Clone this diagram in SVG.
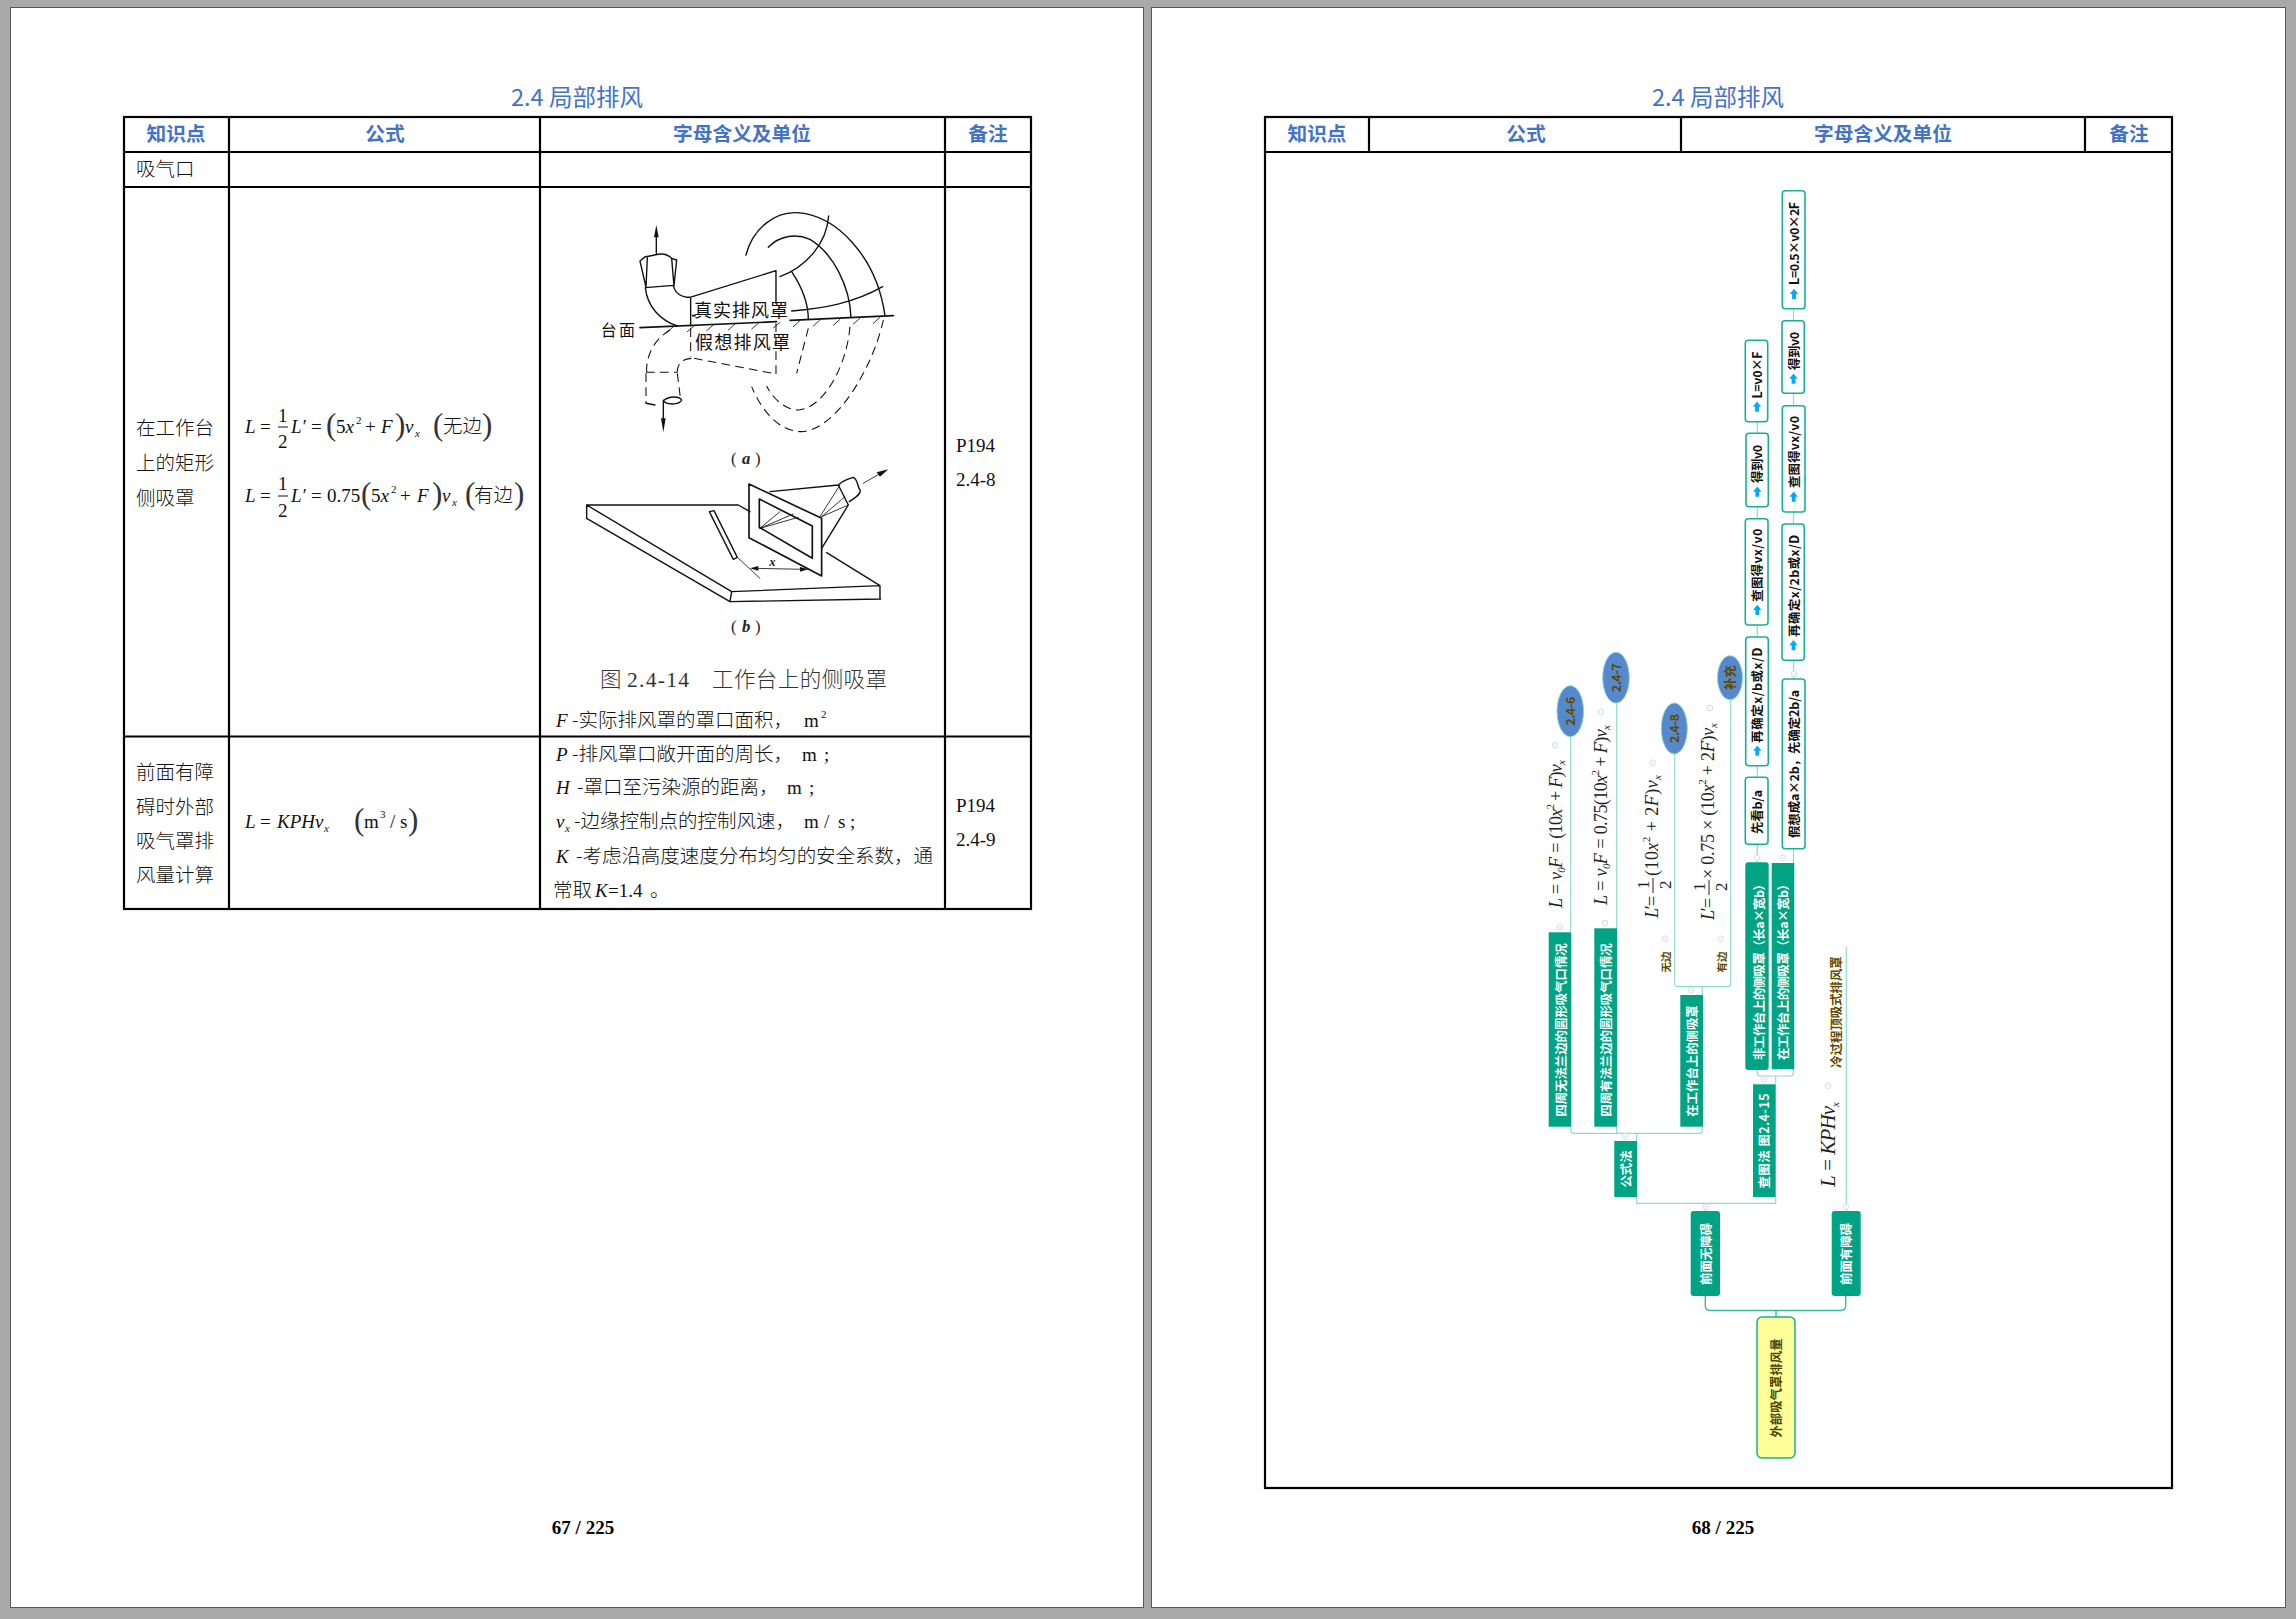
<svg xmlns="http://www.w3.org/2000/svg" width="2296" height="1619" viewBox="0 0 2296 1619">
<style>
.pg{fill:#fff;stroke:#555;stroke-width:1}
.tb{fill:none;stroke:#000;stroke-width:2.2}
text{font-family:"Noto Sans CJK SC","Noto Sans",sans-serif}
.ttl{font-size:23.5px;fill:#4472c4;text-anchor:middle}
.hd{font-size:19.7px;font-weight:700;fill:#4472c4;text-anchor:middle}
.b{font-size:19.5px;font-weight:300;fill:#111}
.m,.i,.p,.mm{font-family:"Liberation Serif","Noto Sans CJK SC",serif;fill:#111}
.m{font-size:19px}
.i{font-size:19px;font-style:italic}
.s{font-size:11px}
.p{font-size:31px;font-weight:400;fill:#333}
.pn{font-family:"Liberation Serif",serif;font-weight:700;font-size:19px;text-anchor:middle;fill:#000}
.fig{fill:none;stroke:#111;stroke-width:4.2;stroke-linecap:round;stroke-linejoin:round}
.d{stroke-dasharray:26 16;stroke-width:3.2;stroke-linecap:butt}
.tf{stroke-width:2.5}
.ft{font-size:54px;fill:#111}
.cap{font-size:21.5px;font-weight:300;fill:#333}
.c1{fill:none;stroke:#35b8a0;stroke-width:1.4}
.c2{fill:none;stroke:#90dccb;stroke-width:1.2}
.t{fill:#00a383}
.w{fill:#fff;stroke:#18b094;stroke-width:1.6}
.tw,.tk,.to,.ty{font-size:12.4px;font-weight:700;text-anchor:middle;dominant-baseline:central}
.tw{fill:#fff}
.tk{fill:#111}
.to{fill:#5c4a00}
.ty{fill:#4a4400}
.el{fill:#5588cc;stroke:#8fd6d0;stroke-width:1}
.mm{font-size:18px;font-style:italic;fill:#222}
.ni{font-style:normal}
.mk{fill:#fff;stroke:#cfdcf2;stroke-width:1}
.ar{fill:#00aaff}
</style>
<defs>
<g id="mk"><circle class="mk" r="2.8"/><path d="M-1.4 0H1.4" stroke="#cfdcf2" stroke-width=".8"/></g>
<path id="ar" class="ar" d="M0-5.2L4.2 0H1.9V5H-1.9V0H-4.2Z"/>
</defs>
<rect width="2296" height="1619" fill="#a9a9a9"/>
<rect class="pg" x="10.5" y="7.5" width="1133" height="1600"/>
<rect class="pg" x="1151.5" y="7.5" width="1134" height="1600"/>

<g id="page1-table">
<text class="ttl" x="577" y="105.5">2.4 局部排风</text>
<rect class="tb" x="124" y="117" width="907" height="792"/>
<path class="tb" d="M124 152H1031M124 187H1031M124 736.5H1031M229 117V909M540 117V909M945 117V909"/>
<text class="hd" x="176" y="141">知识点</text>
<text class="hd" x="385" y="141">公式</text>
<text class="hd" x="742" y="141">字母含义及单位</text>
<text class="hd" x="988" y="141">备注</text>
<text class="b" x="136" y="176">吸气口</text>
<text class="b" x="136" y="434.5">在工作台</text>
<text class="b" x="136" y="469.5">上的矩形</text>
<text class="b" x="136" y="504.5">侧吸罩</text>
<text class="b" x="136" y="778.5">前面有障</text>
<text class="b" x="136" y="813.5">碍时外部</text>
<text class="b" x="136" y="847.5">吸气罩排</text>
<text class="b" x="136" y="881.5">风量计算</text>
<text class="m" x="956" y="452">P194</text>
<text class="m" x="956" y="486">2.4-8</text>
<text class="m" x="956" y="812">P194</text>
<text class="m" x="956" y="846">2.4-9</text>
</g>

<g id="formula-1">
<text class="i" x="245" y="433">L</text><text class="m" x="260" y="433">=</text>
<text class="m" x="278" y="422">1</text><path d="M278 427H288" stroke="#111" stroke-width="1"/><text class="m" x="278" y="448">2</text>
<text class="i" x="291" y="433">L′</text><text class="m" x="311" y="433">=</text>
<text class="p" x="326" y="435">(</text><text class="m" x="336" y="433">5<tspan class="i">x</tspan></text><text class="m s" x="356" y="424">2</text>
<text class="m" x="365" y="433">+</text><text class="i" x="381" y="433">F</text>
<text class="p" x="395" y="435">)</text><text class="i" x="405" y="433">v</text><text class="i s" x="415" y="437">x</text>
<text class="p" x="433" y="435">(</text><text class="b" x="443" y="433">无边</text><text class="p" x="482" y="435">)</text>
</g>
<g id="formula-2">
<text class="i" x="245" y="502">L</text><text class="m" x="260" y="502">=</text>
<text class="m" x="278" y="490">1</text><path d="M278 496H288" stroke="#111" stroke-width="1"/><text class="m" x="278" y="517">2</text>
<text class="i" x="291" y="502">L′</text><text class="m" x="311" y="502">=</text>
<text class="m" x="327" y="502">0.75</text>
<text class="p" x="361" y="504">(</text><text class="m" x="371" y="502">5<tspan class="i">x</tspan></text><text class="m s" x="391" y="493">2</text>
<text class="m" x="400" y="502">+</text><text class="i" x="417" y="502">F</text>
<text class="p" x="432" y="504">)</text><text class="i" x="442" y="502">v</text><text class="i s" x="452" y="506">x</text>
<text class="p" x="465" y="504">(</text><text class="b" x="474" y="502">有边</text><text class="p" x="514" y="504">)</text>
</g>
<g id="formula-3">
<text class="i" x="245" y="827.5">L</text><text class="m" x="260" y="827.5">=</text>
<text class="i" x="277" y="827.5">KPHv</text><text class="i s" x="324" y="832">x</text>
<text class="p" x="354" y="830">(</text><text class="m" x="364" y="827.5">m</text><text class="m s" x="380" y="818">3</text>
<text class="m" x="390" y="827.5">/</text><text class="m" x="400" y="827.5">s</text><text class="p" x="408" y="830">)</text>
</g>

<g id="figure-a" transform="translate(560 200) scale(.3333)">
<g class="fig">
<path d="M289 160V105M240 183L258 262M240 183L256 170C285 168 310 150 335 175L350 180L342 258M262 172L258 262M335 175L342 258M256 263L340 256M256 263C262 320 300 360 352 378M340 256C345 280 365 292 390 292L648 212V310M392 292V378"/>
<path d="M240 383L650 365M690 361L1000 347M398 347H405" stroke-width="5"/>
<path d="M558 165C580 80 650 35 710 38C830 45 950 170 975 347M625 142C660 105 710 100 750 118C820 160 870 260 873 352M695 215C725 260 745 310 745 358M660 230C740 200 800 130 806 48M695 333C790 325 880 310 968 260"/>
<path class="tf" d="M320 398L340 380M382 395L402 378M440 392L460 375M505 390L525 372M575 387L595 370M640 384L660 367M700 380L720 362M760 378L780 360M820 376L840 358M880 372L900 355M940 370L960 352"/>
<path class="d" d="M330 390C280 420 258 470 260 515M258 517H352M352 517C352 490 365 475 402 475M402 475L648 522M648 370V522M392 385V470M258 520V610M352 520L362 600M745 385L710 520M870 380C860 500 790 625 715 630C680 630 640 600 620 558M970 360C940 500 830 690 725 695C650 695 600 620 575 560"/>
<path d="M258 610L285 615M310 602C330 585 360 590 365 600C360 612 330 618 310 604M310 605V660"/>
</g>
<path fill="#111" d="M282 112L289 75L296 112ZM303 655L310 697L317 655Z"/>
<text class="ft" x="402" y="350" textLength="282">真实排风罩</text>
<text class="ft" x="405" y="447" textLength="285">假想排风罩</text>
<text class="ft" x="122" y="407" textLength="103" style="font-size:48px">台面</text>
<text x="513" y="792" style="font-size:50px;fill:#222;font-family:'Liberation Serif',serif">(</text>
<text x="546" y="792" style="font-size:50px;fill:#222;font-family:'Liberation Serif',serif;font-style:italic;font-weight:700">a</text>
<text x="585" y="792" style="font-size:50px;fill:#222;font-family:'Liberation Serif',serif">)</text>
</g>

<g id="figure-b" transform="translate(560 440) scale(.3333)">
<g class="fig">
<path d="M80 195H535L570 215M80 195L515 455M80 235L510 485M80 195V235M515 455L510 485M515 455L960 437M510 485L962 477M960 437V477M960 437L800 338"/>
<path d="M567 132L785 235V408L567 293ZM598 177L757 258V355L598 262Z" stroke-width="5"/>
<path d="M630 155L835 135M785 325L865 195M835 135C850 120 870 115 880 112C895 120 890 135 900 150C905 165 880 175 868 185M835 135L865 195"/>
<path class="tf" d="M840 135L780 230M865 195L785 230M855 170L785 230M600 265L700 222M600 265L715 232M600 265L660 215M910 130L965 98M532 352L600 415M585 385L730 388"/>
<path d="M448 215L520 358L532 352L462 212Z"/>
</g>
<path fill="#111" d="M985 88L950 97L960 110ZM570 385L595 378V392ZM745 388L720 381V395Z"/>
<text x="628" y="378" style="font-size:38px;fill:#222;font-family:'Liberation Serif',serif;font-style:italic;font-weight:700">x</text>
<text x="513" y="575" style="font-size:50px;fill:#222;font-family:'Liberation Serif',serif">(</text>
<text x="546" y="575" style="font-size:50px;fill:#222;font-family:'Liberation Serif',serif;font-style:italic;font-weight:700">b</text>
<text x="585" y="575" style="font-size:50px;fill:#222;font-family:'Liberation Serif',serif">)</text>
</g>
<text class="cap" x="600" y="687">图</text>
<text class="cap" x="627" y="687" textLength="62" style="font-family:'Liberation Serif',serif">2.4-14</text>
<text class="cap" x="712" y="687" textLength="175">工作台上的侧吸罩</text>

<g id="symbols">
<text class="i" x="556" y="727">F</text><text class="b" x="572" y="727">-实际排风罩的罩口面积，</text><text class="m" x="804" y="727">m</text><text class="m s" x="821" y="718">2</text>
<text class="i" x="556" y="761">P</text><text class="b" x="572" y="761">-排风罩口敞开面的周长，</text><text class="m" x="802" y="761">m</text><text class="m" x="824" y="761">;</text>
<text class="i" x="556" y="794">H</text><text class="b" x="577" y="794">-罩口至污染源的距离，</text><text class="m" x="787" y="794">m</text><text class="m" x="809" y="794">;</text>
<text class="i" x="556" y="828">v</text><text class="i s" x="565" y="832">x</text><text class="b" x="574" y="828">-边缘控制点的控制风速，</text><text class="m" x="804" y="828">m</text><text class="m" x="824" y="828">/</text><text class="m" x="838" y="828">s</text><text class="m" x="850" y="828">;</text>
<text class="i" x="556" y="863">K</text><text class="b" x="576" y="863" textLength="357">-考虑沿高度速度分布均匀的安全系数，通</text>
<text class="b" x="553" y="897">常取</text><text class="i" x="595" y="897">K</text><text class="m" x="608" y="897">=1.4</text><text class="b" x="650" y="897">。</text>
</g>
<text class="pn" x="583" y="1533.5">67 / 225</text>

<g id="page2-table">
<text class="ttl" x="1718" y="105.5">2.4 局部排风</text>
<rect class="tb" x="1265" y="117" width="907" height="1371"/>
<path class="tb" d="M1265 152H2172M1369 117V152M1681 117V152M2085 117V152"/>
<text class="hd" x="1317" y="141">知识点</text>
<text class="hd" x="1526" y="141">公式</text>
<text class="hd" x="1883" y="141">字母含义及单位</text>
<text class="hd" x="2129" y="141">备注</text>
</g>
<text class="pn" x="1723" y="1533.5">68 / 225</text>

<g id="connectors">
<path class="c1" d="M1776 1317V1310.5M1705.3 1296V1305.5Q1705.3 1310.5 1710.3 1310.5H1840.7Q1845.7 1310.5 1845.7 1305.5V1296"/>
<path class="c2" d="M1705.5 1211V1203.3M1636.7 1197V1203.3H1775.7V1197M1846.3 1211V947M1636.7 1141V1133.3M1571 1126.7V1130Q1571 1133.3 1574 1133.3H1699Q1702.3 1133.3 1702.3 1130V1126.7M1616.7 1126.7V1133.3M1570.7 932V736.7M1616.7 928V703M1674.7 754V983Q1674.7 986.7 1678 986.7H1727.5Q1730.7 986.7 1730.7 983V699.7M1702.3 995V986.7M1775.7 1084.3V1076M1757.3 1070V1073Q1757.3 1076 1760 1076H1790Q1793.3 1076 1793.3 1073V1069M1757.3 862V844M1757.3 777V766M1757.3 637V625M1757.3 519V507M1757.3 433V422M1793.5 863V849M1793.5 679V660M1793.5 524V512M1793.5 406V393M1793.5 321V309"/>
<use href="#mk" x="1555" y="745"/><use href="#mk" x="1600.7" y="712"/><use href="#mk" x="1652.7" y="762.7"/><use href="#mk" x="1710" y="708"/>
<use href="#mk" x="1757" y="857.7"/><use href="#mk" x="1782.7" y="857.7"/><use href="#mk" x="1794" y="674"/>
<use href="#mk" x="1559.7" y="927"/><use href="#mk" x="1605" y="923"/><use href="#mk" x="1665" y="938.7"/><use href="#mk" x="1720.7" y="938.7"/>
<use href="#mk" x="1691" y="990.3"/><use href="#mk" x="1625" y="1136.3"/><use href="#mk" x="1763.7" y="1079.3"/><use href="#mk" x="1705.7" y="1206.7"/><use href="#mk" x="1846" y="1206.7"/><use href="#mk" x="1828.3" y="1085.7"/>
</g>

<g id="root"><rect x="1757" y="1317" width="38" height="141" rx="5" fill="#ffff99" stroke="#18b094" stroke-width="1.5"/><text class="ty" transform="translate(1776 1388) rotate(-90)">外部吸气罩排风量</text></g>
<g id="n-qmwza"><rect class="t" x="1690.7" y="1211" width="29.3" height="85" rx="3"/><text class="tw" transform="translate(1705.5 1254) rotate(-90)">前面无障碍</text></g>
<g id="n-qmyza"><rect class="t" x="1831.7" y="1211" width="29" height="85" rx="3"/><text class="tw" transform="translate(1846 1254) rotate(-90)">前面有障碍</text></g>
<g id="n-gsf"><rect class="t" x="1614.3" y="1141" width="22.7" height="56"/><text class="tw" transform="translate(1625.7 1169) rotate(-90)">公式法</text></g>
<g id="n-ctf"><rect class="t" x="1753" y="1084.3" width="22.7" height="112.7"/><text class="tw" transform="translate(1764.3 1141) rotate(-90)" textLength="95">查图法 图2.4-15</text></g>
<g id="n-wf"><rect class="t" x="1548.7" y="932.3" width="22.6" height="194.4"/><text class="tw" transform="translate(1560.5 1030) rotate(-90)">四周无法兰边的圆形吸气口情况</text></g>
<g id="n-yf"><rect class="t" x="1594.3" y="928.3" width="22.7" height="198.4"/><text class="tw" transform="translate(1606 1030) rotate(-90)">四周有法兰边的圆形吸气口情况</text></g>
<g id="n-gzt"><rect class="t" x="1680.3" y="995" width="22.7" height="131.7"/><text class="tw" transform="translate(1692 1061) rotate(-90)">在工作台上的侧吸罩</text></g>
<g id="n-fgzt"><rect class="t" x="1745.3" y="862.3" width="23.4" height="207.7" rx="3"/><text class="tw" transform="translate(1759 969) rotate(-90)" textLength="182">非工作台上的侧吸罩（长a×宽b）</text></g>
<g id="n-zgzt"><rect class="t" x="1771.7" y="863" width="22.6" height="206.3"/><text class="tw" transform="translate(1783 969) rotate(-90)" textLength="182">在工作台上的侧吸罩（长a×宽b）</text></g>

<g id="n-e246"><ellipse class="el" cx="1570.3" cy="711.2" rx="13.3" ry="25.5"/><text class="to" transform="translate(1570.3 711.2) rotate(-90)" textLength="29">2.4-6</text></g>
<g id="n-e247"><ellipse class="el" cx="1616" cy="677.7" rx="13.3" ry="25.4"/><text class="to" transform="translate(1616 677.7) rotate(-90)" textLength="29">2.4-7</text></g>
<g id="n-e248"><ellipse class="el" cx="1674.3" cy="728.5" rx="13" ry="25.5"/><text class="to" transform="translate(1674.3 728.5) rotate(-90)" textLength="29">2.4-8</text></g>
<g id="n-ebc"><ellipse class="el" cx="1730" cy="677.7" rx="12.5" ry="22"/><text class="to" transform="translate(1730 677.7) rotate(-90)">补充</text></g>

<g id="n-f1"><text class="mm" transform="translate(1561.7 908) rotate(-90)" textLength="148">L = v<tspan class="s" dy="3">0</tspan><tspan dy="-3">F = </tspan><tspan class="ni">(10</tspan>x<tspan class="s ni" dy="-8">2</tspan><tspan class="ni" dy="8"> + </tspan>F<tspan class="ni">)</tspan>v<tspan class="s" dy="3">x</tspan></text></g>
<g id="n-f2"><text class="mm" transform="translate(1607.3 905) rotate(-90)" textLength="180">L = v<tspan class="s" dy="3">0</tspan><tspan dy="-3">F = </tspan><tspan class="ni">0.75(10</tspan>x<tspan class="s ni" dy="-8">2</tspan><tspan class="ni" dy="8"> + </tspan>F<tspan class="ni">)</tspan>v<tspan class="s" dy="3">x</tspan></text></g>
<g id="n-f3">
<text class="mm" transform="translate(1658.3 918) rotate(-90)" textLength="23">L′ =</text>
<text class="mm ni" transform="translate(1649 889) rotate(-90)" style="font-size:17px">1</text><path d="M1653 893V878" stroke="#222" stroke-width="1"/><text class="mm ni" transform="translate(1671 889) rotate(-90)" style="font-size:17px">2</text>
<text class="mm" transform="translate(1658.3 876) rotate(-90)" textLength="101"><tspan class="ni">(10</tspan>x<tspan class="s ni" dy="-8">2</tspan><tspan class="ni" dy="8"> + 2</tspan>F<tspan class="ni">)</tspan>v<tspan class="s" dy="3">x</tspan></text>
<text class="to" transform="translate(1665 962) rotate(-90)" textLength="21" style="font-size:10.5px">无边</text>
</g>
<g id="n-f4">
<text class="mm" transform="translate(1714 920) rotate(-90)" textLength="23">L′ =</text>
<text class="mm ni" transform="translate(1705 891) rotate(-90)" style="font-size:17px">1</text><path d="M1709 895V880" stroke="#222" stroke-width="1"/><text class="mm ni" transform="translate(1727 891) rotate(-90)" style="font-size:17px">2</text>
<text class="mm" transform="translate(1714 879) rotate(-90)" textLength="156"><tspan class="ni">× 0.75 × (10</tspan>x<tspan class="s ni" dy="-8">2</tspan><tspan class="ni" dy="8"> + 2</tspan>F<tspan class="ni">)</tspan>v<tspan class="s" dy="3">x</tspan></text>
<text class="to" transform="translate(1721.7 962) rotate(-90)" textLength="21" style="font-size:10.5px">有边</text>
</g>
<g id="n-kphv"><text class="mm" transform="translate(1835 1187) rotate(-90)" style="font-size:21px" textLength="85">L = KPHv<tspan class="s" dy="4">x</tspan></text></g>
<g id="n-lgc"><text class="to" transform="translate(1836 1012) rotate(-90)">冷过程顶吸式排风罩</text></g>

<g id="n-a1"><rect class="w" x="1745.3" y="777.3" width="22.7" height="67" rx="3"/><text class="tk" transform="translate(1757.3 812) rotate(-90)" textLength="44">先看b/a</text></g>
<g id="n-a2"><rect class="w" x="1745.7" y="637" width="22.6" height="128.7" rx="3"/><use href="#ar" x="1757.3" y="750.7"/><text class="tk" transform="translate(1757.3 695.2) rotate(-90)" textLength="95">再确定x/b或x/D</text></g>
<g id="n-a3"><rect class="w" x="1745.3" y="518.7" width="22.7" height="106.3" rx="3"/><use href="#ar" x="1757.3" y="610"/><text class="tk" transform="translate(1757.3 565.3) rotate(-90)" textLength="73">查图得vx/v0</text></g>
<g id="n-a4"><rect class="w" x="1746" y="433.3" width="22.3" height="73.4" rx="3"/><use href="#ar" x="1757.3" y="491.7"/><text class="tk" transform="translate(1757.3 464) rotate(-90)" textLength="38">得到v0</text></g>
<g id="n-a5"><rect class="w" x="1745.3" y="340.3" width="22.4" height="81.4" rx="3"/><use href="#ar" x="1757" y="406.7"/><text class="tk" transform="translate(1757 375) rotate(-90)" textLength="47">L=v0×F</text></g>
<g id="n-b1"><rect class="w" x="1782.3" y="679" width="22.7" height="169.7" rx="3"/><text class="tk" transform="translate(1794 764) rotate(-90)" textLength="148">假想成a×2b，先确定2b/a</text></g>
<g id="n-b2"><rect class="w" x="1782" y="524" width="22.3" height="136.3" rx="3"/><use href="#ar" x="1793.5" y="645.3"/><text class="tk" transform="translate(1793.5 585.8) rotate(-90)" textLength="102">再确定x/2b或x/D</text></g>
<g id="n-b3"><rect class="w" x="1782.3" y="405.7" width="22.7" height="106.3" rx="3"/><use href="#ar" x="1793.7" y="496.7"/><text class="tk" transform="translate(1793.7 452) rotate(-90)" textLength="72">查图得vx/v0</text></g>
<g id="n-b4"><rect class="w" x="1782" y="320.7" width="22.3" height="72.6" rx="3"/><use href="#ar" x="1793.5" y="378.7"/><text class="tk" transform="translate(1793.5 351) rotate(-90)" textLength="38">得到v0</text></g>
<g id="n-b5"><rect class="w" x="1782.3" y="190.7" width="22.7" height="118" rx="3"/><use href="#ar" x="1794" y="294"/><text class="tk" transform="translate(1794 243.4) rotate(-90)" textLength="83">L=0.5×v0×2F</text></g>
</svg>
